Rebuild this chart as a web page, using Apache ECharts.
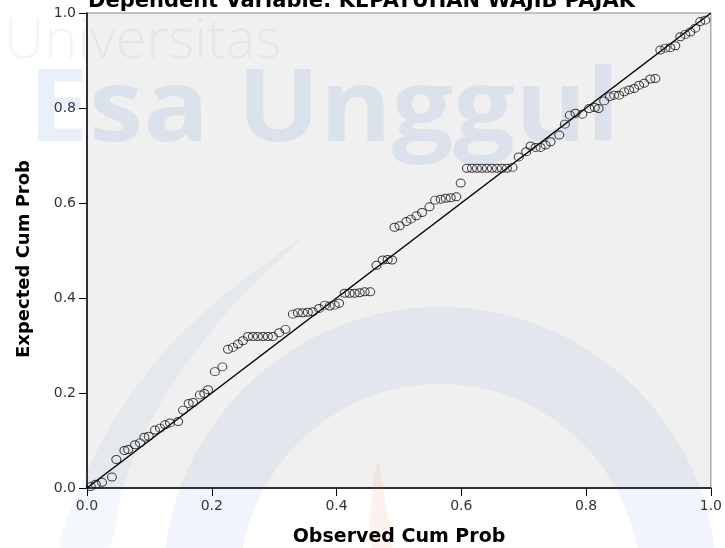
<!DOCTYPE html>
<html>
<head>
<meta charset="utf-8">
<script src="https://cdn.jsdelivr.net/npm/echarts@6/dist/echarts.min.js"></script>
<style>
html,body{margin:0;padding:0;background:#fff;}
#chart{width:725px;height:548px;}
</style>
</head>
<body>
<div id="chart"></div>
<script>
// Observed cumulative probability (x) and expected cumulative probability (y)
var observedCumProb = [
  0.006,0.014,0.024,0.040,
  0.047,0.060,0.066,0.077,0.085,0.092,0.099,0.109,0.117,0.125,0.133,0.146,0.154,0.163,0.170,0.181,0.188,0.194,
  0.205,0.217,0.226,0.234,0.242,0.250,0.258,0.266,0.274,0.282,0.290,0.298,0.308,0.318,0.330,0.338,0.346,0.354,0.362,0.372,0.381,
  0.389,0.397,0.404,0.413,0.421,0.429,0.437,0.445,0.454,0.464,0.474,0.482,0.489,
  0.493,0.501,0.512,0.519,0.528,0.537,0.549,0.558,0.567,0.575,0.583,0.592,0.599,0.609,0.617,0.625,0.633,0.641,0.649,0.657,0.665,0.673,0.682,0.692,0.704,
  0.711,0.719,0.727,0.735,0.743,0.757,0.766,0.774,0.783,0.794,0.805,0.814,0.820,0.829,0.838,0.845,0.853,0.861,
  0.869,0.877,0.885,0.893,0.903,0.911,0.919,0.927,0.935,0.943,0.951,0.959,0.967,0.975,0.983,0.991
];
var expectedCumProb = [
  0.003,0.008,0.012,0.023,
  0.060,0.079,0.081,0.091,0.095,0.107,0.109,0.122,0.126,0.133,0.137,0.140,0.164,0.178,0.180,0.196,0.199,0.207,
  0.245,0.255,0.292,0.296,0.303,0.310,0.319,0.319,0.319,0.319,0.319,0.319,0.327,0.334,0.366,0.369,0.369,0.370,0.371,0.378,0.385,
  0.383,0.385,0.389,0.410,0.410,0.410,0.411,0.413,0.413,0.469,0.480,0.481,0.480,
  0.549,0.552,0.561,0.566,0.573,0.580,0.592,0.606,0.608,0.610,0.611,0.613,0.642,0.673,0.673,0.673,0.673,0.673,0.673,0.673,0.673,0.673,0.675,0.697,0.708,
  0.720,0.717,0.717,0.722,0.729,0.743,0.766,0.785,0.789,0.787,0.799,0.801,0.799,0.815,0.824,0.827,0.827,0.834,
  0.838,0.841,0.848,0.852,0.861,0.862,0.922,0.926,0.927,0.931,0.950,0.955,0.960,0.968,0.982,0.985
];
var refLine = [[0, 0], [1, 1]];
var tickLabels = ['0.0', '0.2', '0.4', '0.6', '0.8', '1.0'];
var titleText = 'Dependent Variable: KEPATUHAN WAJIB PAJAK';
var xTitle = 'Observed Cum Prob';
var yTitle = 'Expected Cum Prob';

var points = observedCumProb.map(function (x, i) { return [x, expectedCumProb[i]]; });

var chart = echarts.init(document.getElementById('chart'), null, {renderer: 'canvas'});
function fmt(v) { return tickLabels[Math.round(v / 0.2)]; }
var FONT = '"DejaVu Sans", "Liberation Sans", sans-serif';
var WM = 'rgba(60,115,200,';

var option = {
  animation: false,
  backgroundColor: '#ffffff',
  grid: {
    left: 87, right: 13, top: 13, bottom: 60,
    show: true, backgroundColor: '#f0f0f0', borderColor: '#8a8a8a', borderWidth: 1
  },
  graphic: [
    // watermark
    {type: 'text', z: 1, x: 4, y: 14, silent: true,
     style: {text: 'Universitas', font: '300 56px "Open Sans", sans-serif', fill: WM + '0.07)'}},
    {type: 'text', z: 1, x: 28, y: 62, scaleX: 1.08, silent: true,
     style: {text: 'Esa Unggul', font: 'bold 101px "Open Sans", sans-serif', fill: WM + '0.11)'}},
    {type: 'ring', z: 1, silent: true, shape: {cx: 440, cy: 584, r: 277, r0: 200},
     style: {fill: WM + '0.07)'}},
    {type: 'polygon', z: 1, silent: true,
     shape: {points: [[60, 548], [84, 478], [120, 410], [170, 345], [230, 290], [302, 238],
                      [238, 300], [188, 362], [150, 422], [124, 484], [108, 548]], smooth: 0.25},
     style: {fill: WM + '0.06)'}},
    {type: 'polygon', z: 1, silent: true,
     shape: {points: [[372, 548], [371, 505], [378, 462], [386, 505], [392, 548]], smooth: 0.3},
     style: {fill: 'rgba(240,130,80,0.10)'}},
    // titles
    {type: 'text', z: 100, x: 88, y: 12, silent: true,
     style: {text: titleText, font: 'bold 21px ' + FONT, fill: '#000', verticalAlign: 'bottom'}},
    {type: 'text', z: 100, x: 399, y: 537, silent: true,
     style: {text: xTitle, font: 'bold 19px ' + FONT, fill: '#000', align: 'center', verticalAlign: 'middle'}},
    {type: 'text', z: 100, x: 24, y: 259, rotation: Math.PI / 2, silent: true,
     style: {text: yTitle, font: 'bold 18px ' + FONT, fill: '#000', align: 'center', verticalAlign: 'middle'}}
  ],
  xAxis: {
    type: 'value', min: 0, max: 1, interval: 0.2,
    axisLine: {show: true, lineStyle: {color: '#000', width: 1.5}},
    axisTick: {show: true, length: 8, lineStyle: {color: '#000'}},
    axisLabel: {formatter: fmt, margin: 11, fontFamily: FONT, fontSize: 14, color: '#333'},
    splitLine: {show: false}
  },
  yAxis: {
    type: 'value', min: 0, max: 1, interval: 0.2,
    axisLine: {show: true, lineStyle: {color: '#000', width: 1.5}},
    axisTick: {show: true, length: 8, lineStyle: {color: '#000'}},
    axisLabel: {formatter: fmt, margin: 11, fontFamily: FONT, fontSize: 14, color: '#333'},
    splitLine: {show: false}
  },
  series: [
    {
      type: 'line', data: refLine, symbol: 'none', z: 3,
      lineStyle: {color: '#000', width: 1.5}
    },
    {
      type: 'scatter', data: points, symbol: 'circle', symbolSize: [9, 8], z: 4,
      itemStyle: {color: 'rgba(0,0,0,0)', borderColor: '#111', borderWidth: 1}
    }
  ]
};
chart.setOption(option);
</script>
</body>
</html>
